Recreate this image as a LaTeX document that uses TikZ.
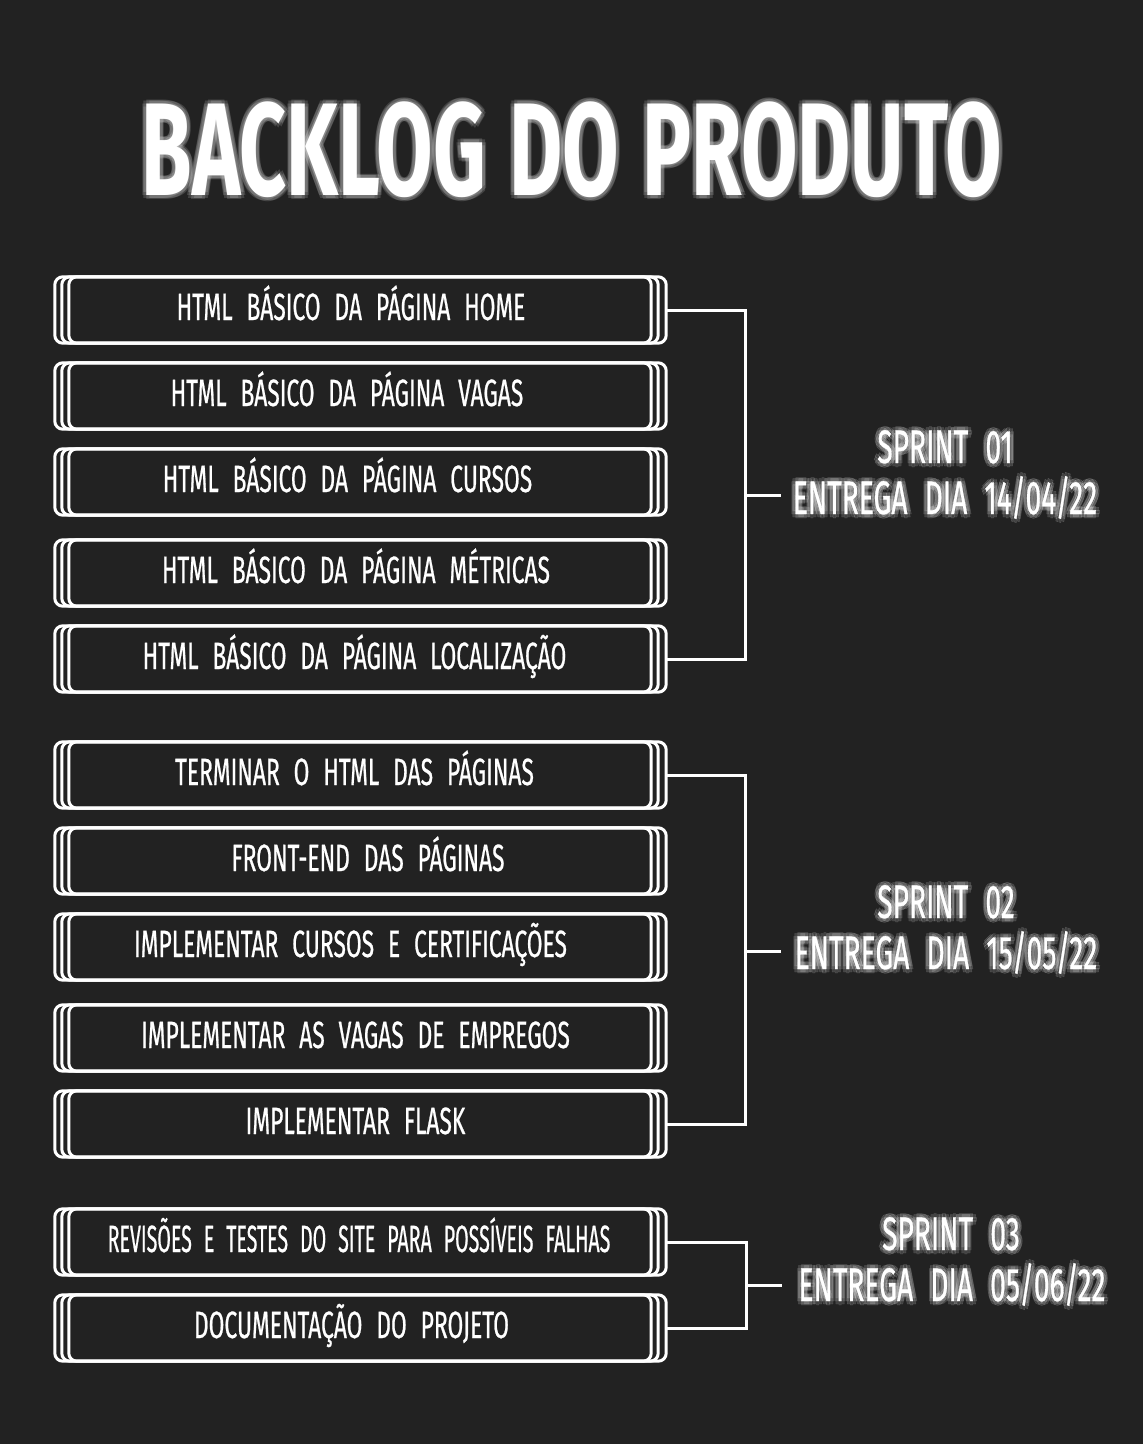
\documentclass[tikz,border=0pt]{standalone}
\usepackage{fontspec}
\newfontfamily\handfont[FakeStretch=0.6,WordSpace=2.6,FakeBold=0.6]{Fira Sans}
\newfontfamily\sprintfont[FakeStretch=0.6,WordSpace=2.3,FakeBold=0.6]{Fira Sans}
\newfontfamily\titlefont[FakeStretch=0.62,WordSpace=1.2]{Fira Sans}
\definecolor{bg}{HTML}{222222}
\tikzset{
  boxline/.style={draw=white,line width=3pt,rounded corners=8pt},
  conn/.style={draw=white,line width=3pt},
  backlog/.style={minimum width=611pt,minimum height=66pt,inner sep=0pt},
  itemtext/.style={text=white,font=\handfont\fontsize{38}{40}\selectfont,anchor=base,inner sep=0pt},
  sprinttext/.style={text=white,font=\sprintfont\fontsize{47}{50}\selectfont,anchor=base,inner sep=0pt},
  titletext/.style={text=white,font=\titlefont\bfseries\fontsize{132}{140}\selectfont,anchor=base,inner sep=0pt},
  glowcopy/.style={opacity=0.15}
}
% glowing text: #1 name, #2 style, #3 x, #4 y, #5 text
\newcommand{\glownode}[5]{%
  \foreach \dx/\dy in {-4/0,4/0,0/-4,0/4,-3/-3,3/3,-3/3,3/-3}
    \node[#2,glowcopy] at (#3+\dx,#4+\dy) {#5};
  \node[#2] (#1) at (#3,#4) {#5};
}
\begin{document}
\begin{tikzpicture}[x=1pt,y=-1pt]
\fill[bg] (0,0) rectangle (1143,1444);
\useasboundingbox (0,0) rectangle (1143,1444);

% title
\glownode{title}{titletext}{572}{195}{BACKLOG DO PRODUTO}

% boxes
\foreach \n/\y in {b1/310,b2/396,b3/482,b4/573,b5/659,b6/775,b7/861,b8/947,b9/1038,b10/1124,b11/1242,b12/1328}{
  \node[backlog] (\n) at (360.5,\y) {};
  \draw[boxline] (\n.north west) rectangle ([xshift=-15pt]\n.south east);
  \draw[boxline] ([xshift=7pt]\n.north west) rectangle ([xshift=-8pt]\n.south east);
  \draw[boxline] ([xshift=14pt]\n.north west) rectangle (\n.south east);
}

% item texts
\node[itemtext] (t1) at (351,320) {HTML BÁSICO DA PÁGINA HOME};
\node[itemtext] (t2) at (347,406) {HTML BÁSICO DA PÁGINA VAGAS};
\node[itemtext] (t3) at (347.5,492) {HTML BÁSICO DA PÁGINA CURSOS};
\node[itemtext] (t4) at (356,583) {HTML BÁSICO DA PÁGINA MÉTRICAS};
\node[itemtext] (t5) at (354.5,669) {HTML BÁSICO DA PÁGINA LOCALIZAÇÃO};
\node[itemtext] (t6) at (354.5,785) {TERMINAR O HTML DAS PÁGINAS};
\node[itemtext] (t7) at (368,871) {FRONT-END DAS PÁGINAS};
\node[itemtext] (t8) at (350.5,957) {IMPLEMENTAR CURSOS E CERTIFICAÇÕES};
\node[itemtext] (t9) at (355.5,1048) {IMPLEMENTAR AS VAGAS DE EMPREGOS};
\node[itemtext] (t10) at (355.5,1134) {IMPLEMENTAR FLASK};
\node[itemtext] (t11) at (359,1252) {\scalebox{0.86}[1]{REVISÕES E TESTES DO SITE PARA POSSÍVEIS FALHAS}};
\node[itemtext] (t12) at (351.5,1338) {DOCUMENTAÇÃO DO PROJETO};

% connectors
\coordinate (k1) at (745,495);
\coordinate (k1e) at (781,495);
\coordinate (k2) at (745,951);
\coordinate (k2e) at (781,951);
\coordinate (k3) at (746,1285);
\coordinate (k3e) at (782,1285);
\draw[conn] (b1.east) -| (k1) |- (b5.east);
\draw[conn] (k1) -- (k1e);
\draw[conn] (b6.east) -| (k2) |- (b10.east);
\draw[conn] (k2) -- (k2e);
\draw[conn] (b11.east) -| (k3) |- (b12.east);
\draw[conn] (k3) -- (k3e);

% sprint labels
\glownode{s1a}{sprinttext}{945}{463}{SPRINT 01}
\glownode{s1b}{sprinttext}{945}{514}{ENTREGA DIA 14/04/22}
\glownode{s2a}{sprinttext}{946}{918}{SPRINT 02}
\glownode{s2b}{sprinttext}{946}{969}{ENTREGA DIA 15/05/22}
\glownode{s3a}{sprinttext}{951}{1250}{SPRINT 03}
\glownode{s3b}{sprinttext}{952}{1301}{ENTREGA DIA 05/06/22}
\end{tikzpicture}
\end{document}
